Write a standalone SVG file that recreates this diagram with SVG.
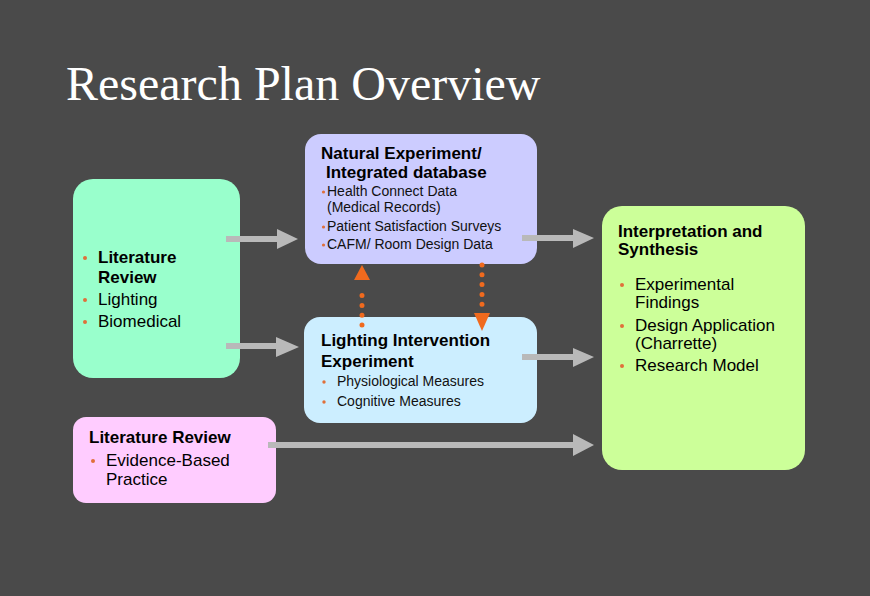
<svg xmlns="http://www.w3.org/2000/svg" width="870" height="596" viewBox="0 0 870 596">
<style>
.title{font-family:"Liberation Serif","Times New Roman",serif;font-size:48px;fill:#ffffff}
.h{font-family:"Liberation Sans",Arial,sans-serif;font-size:17px;font-weight:bold;fill:#000}
.b{font-family:"Liberation Sans",Arial,sans-serif;font-size:17px;fill:#000}
.s{font-family:"Liberation Sans",Arial,sans-serif;font-size:14px;fill:#111}
.bul{fill:#e0703a}
.arrow{fill:#b9b9b9}
.dots{stroke:#f06a1e;stroke-width:5;stroke-linecap:round;stroke-dasharray:0 9.8;fill:none}
.head{fill:#f06a1e}
</style>
<rect width="870" height="596" fill="#4a4a4a"/>
<text class="title" x="66" y="100">Research Plan Overview</text>

<g id="lit-review-lighting">
<rect x="73" y="179" width="167" height="199" rx="20" fill="#99ffcc"/>
<circle class="bul" cx="85" cy="258" r="2"/>
<text class="h" x="98" y="263">Literature</text>
<text class="h" x="98" y="283">Review</text>
<circle class="bul" cx="85" cy="300" r="2"/>
<text class="b" x="98" y="305">Lighting</text>
<circle class="bul" cx="85" cy="322" r="2"/>
<text class="b" x="98" y="327">Biomedical</text>
</g>

<g id="natural-experiment">
<rect x="305" y="134" width="232" height="130" rx="16" fill="#ccccff"/>
<text class="h" x="321" y="159">Natural Experiment/</text>
<text class="h" x="326" y="178">Integrated database</text>
<circle class="bul" cx="323.5" cy="192" r="1.6"/>
<text class="s" x="327" y="196">Health Connect Data</text>
<text class="s" x="327" y="212">(Medical Records)</text>
<circle class="bul" cx="323.5" cy="227" r="1.6"/>
<text class="s" x="327" y="231">Patient Satisfaction Surveys</text>
<circle class="bul" cx="323.5" cy="245" r="1.6"/>
<text class="s" x="327" y="249">CAFM/ Room Design Data</text>
</g>

<g id="lighting-intervention">
<rect x="304" y="317" width="233" height="106" rx="16" fill="#cceeff"/>
<text class="h" x="321" y="346">Lighting Intervention</text>
<text class="h" x="321" y="367">Experiment</text>
<circle class="bul" cx="324" cy="382" r="1.7"/>
<text class="s" x="337" y="386">Physiological Measures</text>
<circle class="bul" cx="324" cy="402" r="1.7"/>
<text class="s" x="337" y="406">Cognitive Measures</text>
</g>

<g id="lit-review-ebp">
<rect x="73" y="417" width="203" height="86" rx="13" fill="#ffccff"/>
<text class="h" x="89" y="443">Literature Review</text>
<circle class="bul" cx="93" cy="461" r="2"/>
<text class="b" x="106" y="466">Evidence-Based</text>
<text class="b" x="106" y="485">Practice</text>
</g>

<g id="interpretation">
<rect x="602" y="206" width="203" height="264" rx="20" fill="#ccff99"/>
<text class="h" x="618" y="237">Interpretation and</text>
<text class="h" x="618" y="255">Synthesis</text>
<circle class="bul" cx="622" cy="285" r="2"/>
<text class="b" x="635" y="290">Experimental</text>
<text class="b" x="635" y="308">Findings</text>
<circle class="bul" cx="622" cy="326" r="2"/>
<text class="b" x="635" y="331">Design Application</text>
<text class="b" x="635" y="349">(Charrette)</text>
<circle class="bul" cx="622" cy="366" r="2"/>
<text class="b" x="635" y="371">Research Model</text>
</g>

<g id="connectors">
<polygon class="arrow" points="226,236 277,236 277,229 298,239 277,249 277,242 226,242"/>
<polygon class="arrow" points="226,343 276,343 276,337 299,347 276,357 276,349 226,349"/>
<polygon class="arrow" points="522,235 573,235 573,229 594,238 573,248 573,241 522,241"/>
<polygon class="arrow" points="522,354 573,354 573,348 594,357 573,367 573,360 522,360"/>
<polygon class="arrow" points="268,442 573,442 573,434 594,445 573,456 573,448 268,448"/>
<line class="dots" x1="362" y1="325" x2="362" y2="286"/>
<polygon class="head" points="362,265 370,280 354,280"/>
<line class="dots" x1="482" y1="265" x2="482" y2="305"/>
<polygon class="head" points="474,313 490,313 482,331"/>
</g>
</svg>
